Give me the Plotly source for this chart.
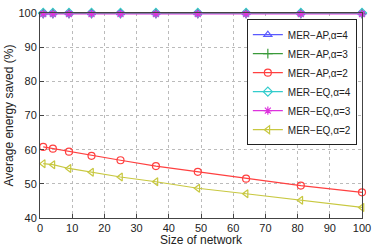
import plotly.graph_objects as go

sizes = [1, 4, 9, 16, 25, 36, 49, 64, 81, 100]
ap_a4 = [100, 100, 100, 100, 100, 100, 100, 100, 100, 100]
ap_a3 = [99.9, 99.9, 99.9, 99.9, 99.9, 99.9, 99.9, 99.9, 99.9, 99.9]
ap_a2 = [60.8, 60.3, 59.4, 58.2, 56.9, 55.2, 53.5, 51.5, 49.5, 47.5]
eq_a4 = [100, 100, 100, 100, 100, 100, 100, 100, 100, 100]
eq_a3 = [99.7, 99.7, 99.7, 99.7, 99.7, 99.7, 99.7, 99.7, 99.7, 99.7]
eq_a2 = [55.9, 55.6, 54.5, 53.4, 52.0, 50.6, 48.7, 47.1, 45.2, 43.1]

names = ["MER\u2212AP,\u03b1=4", "MER\u2212AP,\u03b1=3", "MER\u2212AP,\u03b1=2",
         "MER\u2212EQ,\u03b1=4", "MER\u2212EQ,\u03b1=3", "MER\u2212EQ,\u03b1=2"]
series = [ap_a4, ap_a3, ap_a2, eq_a4, eq_a3, eq_a2]
colors = ["#5a5aff", "#3a9a3a", "#ff4040", "#33cccc", "#dd33dd", "#c8c840"]
symbols = ["triangle-up-open", "cross-thin", "circle-open", "diamond-open", "asterisk-open", "triangle-left-open"]

fig = go.Figure()
for n, s, c, m in zip(names, series, colors, symbols):
    fig.add_trace(go.Scatter(
        x=sizes, y=s, name=n, mode="lines+markers", cliponaxis=False,
        line=dict(color=c, width=1.2),
        marker=dict(symbol=m, size=7, color=c, line=dict(color=c, width=1.2)),
    ))

axis_common = dict(
    showline=True, linecolor="#444", linewidth=1, mirror=True,
    showgrid=True, gridcolor="#bbbbbb", griddash="dot", gridwidth=1,
    zeroline=False, ticks="inside", ticklen=4, tickcolor="#444",
    tickfont=dict(family="Liberation Sans, Arial", size=11, color="#222"),
    automargin=False,
)

fig.update_layout(
    width=374, height=247,
    margin=dict(l=40, r=12, t=13, b=29),
    paper_bgcolor="white", plot_bgcolor="white",
    font=dict(family="Liberation Sans, Arial", size=11, color="#222"),
    xaxis=dict(range=[0, 100], dtick=10,
               title=dict(text="Size of network", standoff=1, font=dict(size=12)),
               **axis_common),
    yaxis=dict(range=[40, 100], dtick=10,
               title=dict(text="Average energy saved (%)", standoff=2, font=dict(size=12)),
               **axis_common),
    legend=dict(x=0.984, y=0.97, xanchor="right", yanchor="top",
                bgcolor="white", bordercolor="#222", borderwidth=1,
                font=dict(size=10), tracegroupgap=0),
    showlegend=True,
)

fig.write_html("out.html", config={"displayModeBar": False},
               post_script="document.body.style.margin='0';document.body.style.overflow='hidden';")
